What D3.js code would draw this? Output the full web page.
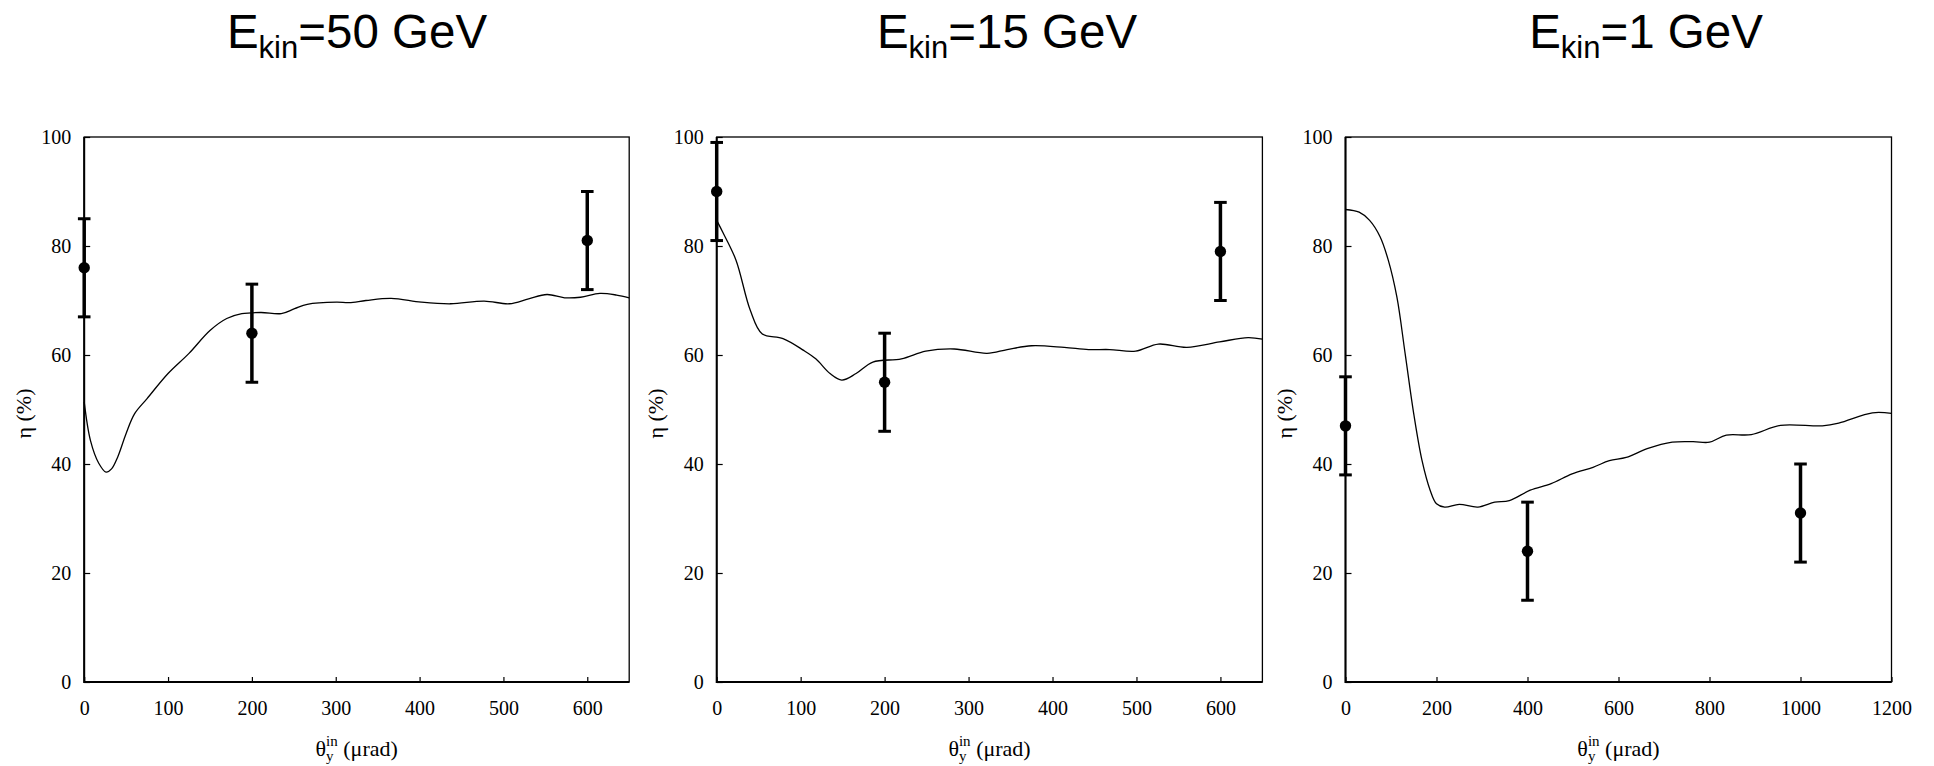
<!DOCTYPE html>
<html>
<head>
<meta charset="utf-8">
<script src="https://cdn.jsdelivr.net/npm/d3@7"></script>
<style>
  html, body { margin: 0; padding: 0; background: #fff; }
  svg { display: block; }
</style>
</head>
<body>
<svg id="chart" width="1934" height="766"></svg>
<script>
// Beam energies (GeV), one panel each
const energies = ["50", "15", "1"];

// x-axis domains and tick values (µrad)
const xMax = [650, 650, 1200];
const xTicksA = [0, 100, 200, 300, 400, 500, 600];
const xTicksB = [0, 100, 200, 300, 400, 500, 600];
const xTicksC = [0, 200, 400, 600, 800, 1000, 1200];
const yTicks = [0, 20, 40, 60, 80, 100];

// Simulated efficiency curves: angle (µrad) and efficiency (%)
const sim50x = [0, 7.5, 17.5, 26, 32.6, 40, 50, 60, 75, 100, 125, 150, 170, 188, 211, 235, 251, 266, 301, 316, 336, 366, 402, 437, 477, 507, 530, 552, 573, 592, 615, 635, 650];
const sim50y = [51.4, 44.3, 40.1, 38.5, 39.1, 41.3, 45.6, 49.2, 52.0, 56.6, 60.3, 64.5, 66.7, 67.6, 67.8, 67.6, 68.5, 69.3, 69.7, 69.6, 70.0, 70.4, 69.7, 69.4, 69.9, 69.4, 70.3, 71.1, 70.5, 70.6, 71.3, 71.0, 70.5];

const sim15x = [0, 8, 23, 40, 54, 79, 103, 118, 135, 149, 166, 186, 220, 249, 283, 322, 346, 375, 414, 443, 468, 499, 526, 560, 599, 633, 650];
const sim15y = [84.7, 82.3, 77.4, 68.2, 63.9, 63.0, 60.9, 59.3, 56.6, 55.4, 56.6, 58.7, 59.3, 60.7, 61.1, 60.3, 61.0, 61.7, 61.4, 61.0, 61.0, 60.7, 62.0, 61.4, 62.4, 63.2, 62.9];

const sim1x = [0, 30, 53, 76, 94, 113, 131, 150, 168, 186, 200, 218, 250, 291, 328, 360, 406, 452, 498, 544, 580, 617, 663, 718, 764, 800, 837, 892, 956, 1048, 1084, 1158, 1200];
const sim1y = [86.7, 86.2, 84.7, 81.7, 77.4, 70.6, 60.3, 49.2, 40.7, 35.2, 32.7, 32.1, 32.6, 32.1, 33.0, 33.3, 35.2, 36.4, 38.2, 39.4, 40.6, 41.2, 42.8, 44.0, 44.1, 44.0, 45.3, 45.4, 47.1, 47.0, 47.5, 49.4, 49.3];

// Measured efficiencies with their uncertainties (%)
const meas50x = [0, 200, 600];
const meas50y = [76, 64, 81];
const meas50err = [9, 9, 9];

const meas15x = [0, 200, 600];
const meas15y = [90, 55, 79];
const meas15err = [9, 9, 9];

const meas1x = [0, 400, 1000];
const meas1y = [47, 24, 31];
const meas1err = [9, 9, 9];

const panels = [
  { energy: energies[0], xMax: xMax[0], xTicks: xTicksA, simX: sim50x, simY: sim50y, mx: meas50x, my: meas50y, me: meas50err,
    left: 84.2, right: 629.2, titleX: 357 },
  { energy: energies[1], xMax: xMax[1], xTicks: xTicksB, simX: sim15x, simY: sim15y, mx: meas15x, my: meas15y, me: meas15err,
    left: 716.7, right: 1262.4, titleX: 1007 },
  { energy: energies[2], xMax: xMax[2], xTicks: xTicksC, simX: sim1x, simY: sim1y, mx: meas1x, my: meas1y, me: meas1err,
    left: 1345.5, right: 1891.5, titleX: 1646 }
];

const plotTop = 137, plotBottom = 682;
const svg = d3.select("#chart");
const serif = "'Liberation Serif', 'Times New Roman', serif";
const sans = "'Liberation Sans', Arial, sans-serif";

panels.forEach(p => {
  const x = d3.scaleLinear().domain([0, p.xMax]).range([p.left, p.right]);
  const y = d3.scaleLinear().domain([0, 100]).range([plotBottom, plotTop]);

  // Panel title: E_kin=… GeV
  const title = svg.append("text")
    .attr("x", p.titleX).attr("y", 48)
    .attr("text-anchor", "middle")
    .attr("font-family", sans).attr("font-size", 47.5).attr("fill", "#000");
  title.append("tspan").text("E");
  title.append("tspan").attr("font-size", 31).attr("dy", 10).text("kin");
  title.append("tspan").attr("dy", -10).text("=" + p.energy + " GeV");

  // Axes with inward ticks
  const gx = svg.append("g").attr("transform", `translate(0,${plotBottom})`)
    .call(d3.axisBottom(x).tickValues(p.xTicks).tickSize(-5).tickPadding(19).tickFormat(d3.format("d")));
  const gy = svg.append("g").attr("transform", `translate(${p.left},0)`)
    .call(d3.axisLeft(y).tickValues(yTicks).tickSize(-6).tickPadding(13).tickFormat(d3.format("d")));
  [gx, gy].forEach(g => {
    g.select(".domain").remove();
    g.selectAll(".tick line").attr("stroke", "#000").attr("stroke-width", 1.2);
    g.selectAll(".tick text").attr("font-family", serif).attr("font-size", 20).attr("fill", "#000");
  });

  // Frame
  svg.append("rect")
    .attr("x", p.left).attr("y", plotTop)
    .attr("width", p.right - p.left).attr("height", plotBottom - plotTop)
    .attr("fill", "none").attr("stroke", "#000").attr("stroke-width", 1.3);
  svg.append("path")
    .attr("d", `M${p.left},${plotTop}V${plotBottom}H${p.right}`)
    .attr("fill", "none").attr("stroke", "#000").attr("stroke-width", 2);

  // Simulation curve
  const pts = p.simX.map((v, i) => [v, p.simY[i]]);
  svg.append("path")
    .datum(pts)
    .attr("fill", "none").attr("stroke", "#000").attr("stroke-width", 1.3)
    .attr("d", d3.line().x(d => x(d[0])).y(d => y(d[1])).curve(d3.curveCatmullRom.alpha(0.5)));

  // Measurements with error bars
  const meas = p.mx.map((v, i) => ({ x: v, y: p.my[i], e: p.me[i] }));
  const gm = svg.append("g");
  gm.selectAll("line.bar").data(meas).join("line").attr("class", "bar")
    .attr("x1", d => x(d.x)).attr("x2", d => x(d.x))
    .attr("y1", d => y(d.y - d.e)).attr("y2", d => y(d.y + d.e))
    .attr("stroke", "#000").attr("stroke-width", 3.5);
  ["lo", "hi"].forEach(k => {
    gm.selectAll("line.cap-" + k).data(meas).join("line").attr("class", "cap-" + k)
      .attr("x1", d => x(d.x) - 6.3).attr("x2", d => x(d.x) + 6.3)
      .attr("y1", d => y(k === "lo" ? d.y - d.e : d.y + d.e))
      .attr("y2", d => y(k === "lo" ? d.y - d.e : d.y + d.e))
      .attr("stroke", "#000").attr("stroke-width", 3);
  });
  gm.selectAll("circle").data(meas).join("circle")
    .attr("cx", d => x(d.x)).attr("cy", d => y(d.y)).attr("r", 5.7).attr("fill", "#000");

  // y-axis title
  svg.append("text")
    .attr("transform", `translate(${p.left - 61},${(plotTop + plotBottom) / 2 + 4}) rotate(-90)`)
    .attr("text-anchor", "middle").attr("dy", "0.35em")
    .attr("font-family", serif).attr("font-size", 22).attr("fill", "#000")
    .text("η (%)");

  // x-axis title: θ_y^in (µrad)
  const cx = (p.left + p.right) / 2;
  const xt = svg.append("text")
    .attr("x", cx).attr("y", 756)
    .attr("text-anchor", "middle")
    .attr("font-family", serif).attr("font-size", 22).attr("fill", "#000");
  xt.append("tspan").text("θ");
  const sub = xt.append("tspan").attr("font-size", 15).attr("dy", 5).text("y");
  const subW = sub.node().getComputedTextLength();
  xt.append("tspan").attr("font-size", 15).attr("dx", -subW).attr("dy", -15).text("in");
  xt.append("tspan").attr("dy", 10).text(" (μrad)");
});
</script>
</body>
</html>
